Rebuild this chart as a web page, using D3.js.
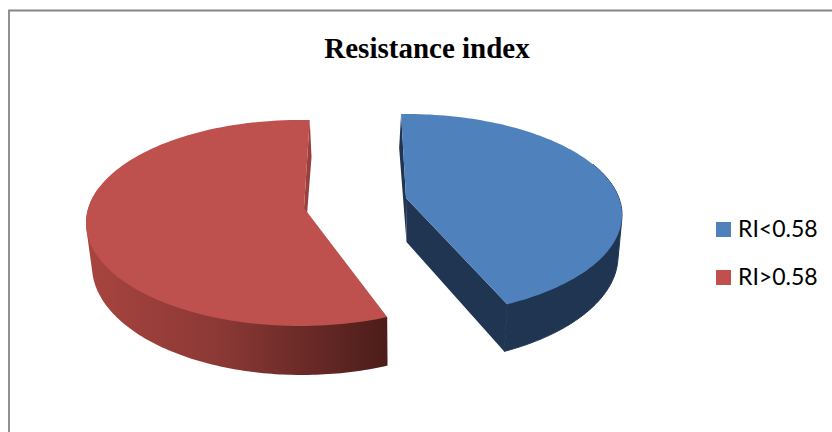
<!DOCTYPE html>
<html>
<head>
<meta charset="utf-8">
<script src="https://cdn.jsdelivr.net/npm/d3@7"></script>
<style>
html,body{margin:0;padding:0;background:#fff;overflow:hidden}
svg{display:block}
</style>
</head>
<body>
<svg id="chart" width="832" height="432"></svg>
<script>
// Chart content
const chartTitle = "Resistance index";
const categories = ["RI<0.58", "RI>0.58"];
const shares = [42.6, 57.4];

// Slice appearance
const topColors = ["#4F81BD", "#BE504D"];
const legendColors = ["#4F81BD", "#C0504D"];
const deg = Math.PI / 180;

// Each exploded slice has its own projected top and bottom rim, because the
// tilted camera opens the lower plane a little and narrows it.
// wallFrom/wallTo limit the outer wall to the part of the rim facing the viewer.
const sliceGeometry = [
  { top: {cx: 406, cy: 215, rx: 216, ry: 101}, bottom: {cx: 404, cy: 256, rx: 214, ry: 108},
    apexTop: [406, 198], apexBottom: [406.5, 242], turn: 0,
    wallFrom: 60 * deg, wallTo: null },
  { top: {cx: 300, cy: 223, rx: 214, ry: 103}, bottom: {cx: 302, cy: 266, rx: 210, ry: 109},
    apexTop: [304, 208], apexBottom: [304, 253], turn: 3.9 * deg,
    wallFrom: null, wallTo: 290 * deg }
];

const svg = d3.select("#chart");

const pie = d3.pie().sort(null).value(d => d)
  .startAngle(-1.3 * deg).endAngle(358.7 * deg);
const slices = pie(shares);

// Point on a projected rim at a pie angle measured clockwise from the top
const rimPoint = (rim, a) => [rim.cx + rim.rx * Math.sin(a), rim.cy - rim.ry * Math.cos(a)];
const rimPoints = (rim, a0, a1) => {
  const n = 120;
  return d3.range(n + 1).map(i => rimPoint(rim, a0 + (a1 - a0) * i / n));
};
const closed = d3.line().curve(d3.curveLinearClosed);

// Side shading of the large slice darkens from left to right
const defs = svg.append("defs");
const sideShade = defs.append("linearGradient")
  .attr("id", "redSide")
  .attr("gradientUnits", "userSpaceOnUse")
  .attr("x1", 86).attr("x2", 386).attr("y1", 0).attr("y2", 0);
sideShade.append("stop").attr("offset", 0).attr("stop-color", "#A8443F");
sideShade.append("stop").attr("offset", 0.45).attr("stop-color", "#8B3835");
sideShade.append("stop").attr("offset", 1).attr("stop-color", "#4C1D1A");

const sideFill = ["#1F3552", "url(#redSide)"];
const wallEdge = ["#1F3552", null];
const openingCutFill = ["#1F3552", null];
const closingCutFill = ["#1F3552", "#9A3F3B"];

// Chart frame: only the top and left edges fall inside the page
svg.append("path")
  .attr("d", "M9,432V10.5H832")
  .attr("fill", "none").attr("stroke", "#868686").attr("stroke-width", 1.8);

// Title
svg.append("text")
  .attr("x", 427).attr("y", 58)
  .attr("text-anchor", "middle")
  .attr("font-family", "'Liberation Serif', serif")
  .attr("font-weight", 700)
  .attr("font-size", 29)
  .attr("fill", "#000")
  .text(chartTitle);

// Slices
const groups = svg.selectAll("g.slice").data(slices).join("g").attr("class", "slice");

groups.each(function (d, i) {
  const g = d3.select(this);
  const geo = sliceGeometry[i];
  const a0 = d.startAngle + geo.turn;
  const a1 = d.endAngle + geo.turn;
  const topStart = rimPoint(geo.top, a0);
  const topEnd = rimPoint(geo.top, a1);
  const botStart = rimPoint(geo.bottom, a0);
  const botEnd = rimPoint(geo.bottom, a1);

  // Cut faces, drawn only where they turn towards the viewer
  if (openingCutFill[i]) {
    g.append("path")
      .attr("d", closed([topStart, botStart, geo.apexBottom, geo.apexTop]))
      .attr("fill", openingCutFill[i]);
  }
  if (closingCutFill[i]) {
    g.append("path")
      .attr("d", closed([geo.apexTop, geo.apexBottom, botEnd, topEnd]))
      .attr("fill", closingCutFill[i]);
  }

  // Outer wall: hull of both rims so the silhouette runs tangent between them
  const w0 = geo.wallFrom === null ? a0 : geo.wallFrom;
  const w1 = geo.wallTo === null ? a1 : geo.wallTo;
  const wall = d3.polygonHull(rimPoints(geo.top, w0, w1).concat(rimPoints(geo.bottom, w0, w1)));
  g.append("path")
    .attr("d", closed(wall))
    .attr("fill", sideFill[i])
    .attr("stroke", wallEdge[i] || "none")
    .attr("stroke-width", 1);

  // Top face
  const face = [geo.apexTop].concat(rimPoints(geo.top, a0, a1));
  g.append("path")
    .attr("d", closed(face))
    .attr("fill", topColors[i]);
});

// Legend
const legendY = d3.scalePoint().domain(categories).range([229.5, 277.5]);
const legend = svg.selectAll("g.legend").data(categories).join("g")
  .attr("class", "legend")
  .attr("transform", d => `translate(0,${legendY(d)})`);
legend.append("rect")
  .attr("x", 716).attr("y", -7.5).attr("width", 15).attr("height", 15)
  .attr("fill", (d, i) => legendColors[i]);
legend.append("text")
  .attr("x", 738).attr("y", 7)
  .attr("font-family", "Lato, sans-serif")
  .attr("font-size", 23)
  .attr("fill", "#000")
  .text(d => d);
</script>
</body>
</html>
